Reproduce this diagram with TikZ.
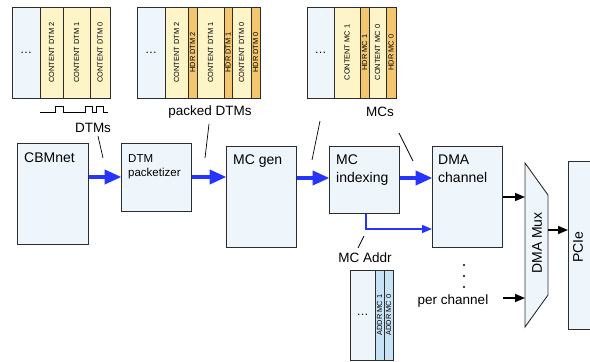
\documentclass[tikz,border=0pt]{standalone}
\usepackage{fontspec}
\setmainfont{Liberation Sans}
\usetikzlibrary{arrows.meta}

\definecolor{boxfill}{RGB}{239,246,251}
\definecolor{linegray}{RGB}{45,45,45}
\definecolor{contentfill}{RGB}{253,244,200}
\definecolor{hdrfill}{RGB}{244,199,110}
\definecolor{addrfill}{RGB}{200,226,245}
\definecolor{flowblue}{RGB}{38,52,255}

\tikzset{
  block/.style={draw=linegray, fill=boxfill, line width=0.9pt, anchor=north west, inner sep=0pt},
  blocktext/.style={anchor=north west, inner sep=0pt, align=left, font=\fontsize{14}{18}\selectfont},
  cell/.style={draw=linegray, line width=0.9pt, rotate=90, inner sep=0pt, font=\fontsize{7.4}{8}\selectfont},
  dotcell/.style={draw=linegray, fill=boxfill, line width=0.9pt, inner sep=0pt, font=\fontsize{12}{12}\selectfont},
  lab/.style={inner sep=0pt, font=\fontsize{13.5}{14}\selectfont},
  leader/.style={draw=black, line width=0.7pt},
  bigflow/.style={draw=flowblue, line width=4pt, -{Triangle[length=17pt,width=14pt]}, shorten >=-0.5pt},
  thinflow/.style={draw=flowblue, line width=1.6pt, -{Triangle[length=10pt,width=8pt]}},
  blackflow/.style={draw=black, line width=1.6pt, -{Triangle[length=10pt,width=8pt]}},
}

% one rotated column of a memory array: name, left x, right x, centre y, height, fill, text
\newcommand\memcell[7]{\node[cell, fill=#6, minimum width=#5, minimum height={#3-#2}] (#1) at ({(#2+#3)/2},#4) {#7};}
% the "..." column of a memory array
\newcommand\memdots[5]{\node[dotcell, minimum width={#3-#2}, minimum height=#5] (#1) at ({(#2+#3)/2},#4) {\dots};}

\begin{document}
\begin{tikzpicture}[x=1pt,y=-1pt]
\useasboundingbox (0,0) rectangle (590,362);

% ---- DTM stream ----
\memdots{dA}{12}{40}{52.5}{91}
\memcell{dA2}{40}{63}{52.5}{91}{contentfill}{CONTENT DTM 2}
\memcell{dA1}{63}{90}{52.5}{91}{contentfill}{CONTENT DTM 1}
\memcell{dA0}{90}{110}{52.5}{91}{contentfill}{CONTENT DTM 0}
\draw[line width=0.7pt] (40,112) -- (55.5,112) -- (55.5,106) -- (63,106) -- (63,112)
  -- (85,112) -- (85,106) -- (92.5,106) -- (92.5,112) -- (96.5,112) -- (96.5,106)
  -- (103.5,106) -- (103.5,112) -- (108,112);
\node[lab] (dtmsL) at (93,128) {DTMs};

% ---- packed DTMs ----
\memdots{pA}{137}{165}{52.5}{91}
\memcell{pA2}{165}{188}{52.5}{91}{contentfill}{CONTENT DTM 2}
\memcell{pH2}{188}{197}{52.5}{91}{hdrfill}{HDR DTM 2}
\memcell{pA1}{197}{224}{52.5}{91}{contentfill}{CONTENT DTM 1}
\memcell{pH1}{224}{232}{52.5}{91}{hdrfill}{HDR DTM 1}
\memcell{pA0}{232}{251}{52.5}{91}{contentfill}{CONTENT DTM 0}
\memcell{pH0}{251}{260}{52.5}{91}{hdrfill}{HDR DTM 0}
\node[lab] (packedL) at (210,112) {packed DTMs};

% ---- MCs ----
\memdots{mA}{307}{334}{52.5}{91}
\memcell{mA1}{334}{360}{52.5}{91}{contentfill}{CONTENT MC 1}
\memcell{mH1}{360}{369}{52.5}{91}{hdrfill}{HDR MC 1}
\memcell{mA0}{369}{386}{52.5}{91}{contentfill}{CONTENT MC 0}
\memcell{mH0}{386}{396}{52.5}{91}{hdrfill}{HDR MC 0}
\node[lab] (mcsL) at (380,112) {MCs};

% ---- MC addresses ----
\memdots{aA}{350}{375}{315}{90}
\memcell{aA1}{375}{384}{315}{90}{addrfill}{ADDR MC 1}
\memcell{aA0}{384}{393}{315}{90}{addrfill}{ADDR MC 0}
\node[lab] (addrL) at (365,258) {MC Addr};

% ---- processing blocks ----
\node[block, minimum width=71, minimum height=101] (cbm) at (17,143) {};
\node[blocktext] (cbmT) at (24,153) {CBMnet};
\node[block, minimum width=70, minimum height=68] (pkt) at (121,143) {};
\node[blocktext, font=\fontsize{11.5}{14}\selectfont] (pktT) at (128,154) {DTM\\packetizer};
\node[block, minimum width=70, minimum height=101] (gen) at (226,146) {};
\node[blocktext] (genT) at (233,155) {MC gen};
\node[block, minimum width=70, minimum height=67] (idx) at (329,146) {};
\node[blocktext] (idxT) at (336,155) {MC\\indexing};
\node[block, minimum width=70, minimum height=101] (dma) at (432,146) {};
\node[blocktext] (dmaT) at (438,155) {DMA\\channel};

% DMA multiplexer
\draw[draw=linegray, fill=boxfill, line width=0.9pt]
  (525,163) -- (548,195) -- (548,295) -- (525,327) -- cycle;
\node[lab, rotate=90, font=\fontsize{14}{14}\selectfont] (muxT) at (537,243) {DMA Mux};
\coordinate (muxIn1) at (525,197);
\coordinate (muxIn2) at (525,298);
\coordinate (muxOut) at (548,230);

% PCIe
\node[block, minimum width=45, minimum height=168] (pcie) at (568,161) {};
\node[lab, rotate=90, font=\fontsize{14}{14}\selectfont] (pcieT) at (578,247) {PCIe};

% ---- data flow ----
\draw[bigflow] (cbm.east |- 0,177) -- (pkt.west |- 0,177);
\draw[bigflow] (pkt.east |- 0,177) -- (gen.west |- 0,177);
\draw[bigflow] (gen.east |- 0,178) -- (idx.west |- 0,178);
\draw[bigflow] (idx.east |- 0,178) -- (dma.west |- 0,178);
\draw[thinflow] (idx.south -| 366,0) |- (dma.west |- 0,229);
\draw[blackflow] (dma.east |- muxIn1) -- (muxIn1);
\draw[blackflow] (muxOut) -- (pcie.west |- muxOut);

% further channels
\node[lab] (perT) at (453,301) {per channel};
\coordinate (perOut) at (503,298);
\draw[blackflow] (perOut) -- (muxIn2);
\foreach \yy [count=\i] in {265,276,287} \fill (464,\yy) circle (1.2pt) coordinate (vd\i);

% ---- leader lines ----
\coordinate (l1a) at (98,136);  \coordinate (l1b) at (103,158);
\coordinate (l2a) at (209,124); \coordinate (l2b) at (205,158);
\coordinate (l3a) at (320,121); \coordinate (l3b) at (312,160);
\coordinate (l4a) at (399,133); \coordinate (l4b) at (413,161);
\coordinate (l5a) at (364,236); \coordinate (l5b) at (358,248);
\draw[leader] (l1a) -- (l1b);
\draw[leader] (l2a) -- (l2b);
\draw[leader] (l3a) -- (l3b);
\draw[leader] (l4a) -- (l4b);
\draw[leader] (l5a) -- (l5b);
\end{tikzpicture}
\end{document}
